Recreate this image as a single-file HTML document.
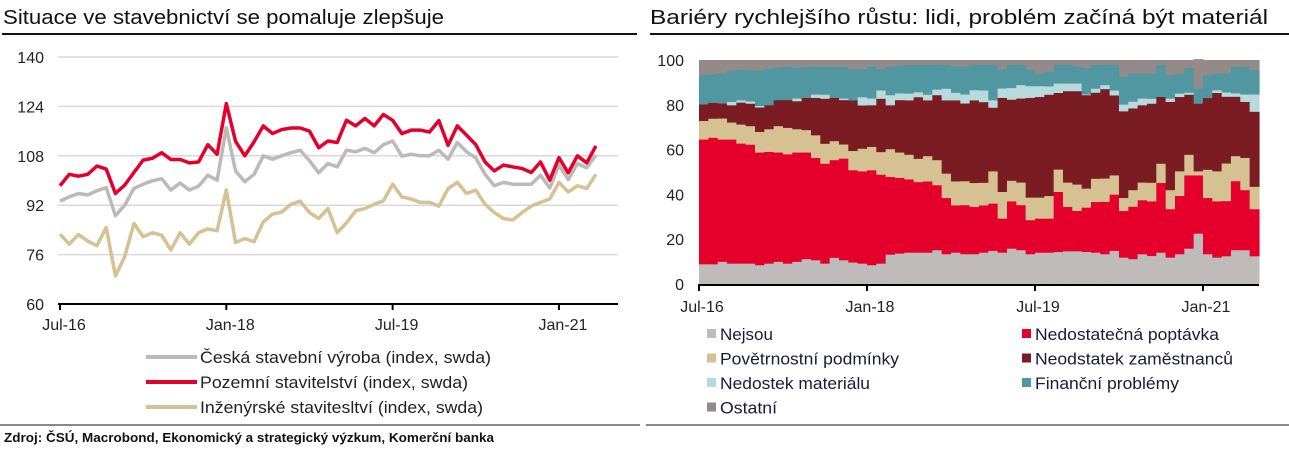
<!DOCTYPE html>
<html><head><meta charset="utf-8"><style>
body{margin:0;width:1289px;height:456px;background:#fff;overflow:hidden;font-family:"Liberation Sans",sans-serif;}
svg text{font-family:"Liberation Sans",sans-serif;}
</style></head><body>
<svg id="s" width="1289" height="456" xmlns="http://www.w3.org/2000/svg">
<text x="3" y="24" font-size="20" fill="#111" textLength="441" lengthAdjust="spacingAndGlyphs">Situace ve stavebnictví se pomaluje zlepšuje</text>
<line x1="2" y1="34" x2="637" y2="34" stroke="#111" stroke-width="2"/>
<text x="650" y="24" font-size="20" fill="#111" textLength="618" lengthAdjust="spacingAndGlyphs">Bariéry rychlejšího růstu: lidi, problém začíná být materiál</text>
<line x1="650" y1="34" x2="1289" y2="34" stroke="#111" stroke-width="2"/>
<line x1="0" y1="425" x2="640" y2="425" stroke="#888" stroke-width="2"/>
<line x1="646" y1="425" x2="1289" y2="425" stroke="#888" stroke-width="2"/>
<text x="4" y="442" font-size="13" font-weight="bold" fill="#111" textLength="490" lengthAdjust="spacingAndGlyphs">Zdroj: ČSÚ, Macrobond, Ekonomický a strategický výzkum, Komerční banka</text>
<g id="left"></g><g id="right"></g>
</svg>
<script>
// ---- Left chart data ----
const lineXLabels = ["Jul-16","Jan-18","Jul-19","Jan-21"];
const lineXLabelIdx = [0,18,36,54];
const yTicks = [60,76,92,108,124,140];
const ceskaVyroba = [93.3,94.7,95.8,95.3,96.7,97.7,88.6,92,97.4,98.8,99.9,100.6,96.9,99.2,96.9,98.2,101.7,100.1,117.1,103.1,99.6,102,108,106.9,108,109,109.8,106.4,102.5,105.5,104.4,109.8,109.3,110.4,109,111.6,112.8,107.9,108.5,108,108,109.8,106.9,112.3,109.3,107.3,102,98.3,99.4,98.8,98.8,98.8,101.7,97.6,105,100.3,105.5,104.1,108.2];
const pozemni = [98.3,102,101.4,102,104.7,103.7,95.8,98.5,102.6,106.6,107.2,109,106.8,106.8,105.7,106,111.6,108.5,124.9,112.7,108,112.5,117.7,115.2,116.5,117,117,116,110.6,112.8,112.3,119.5,117.7,120.1,117.7,121.4,119.5,115.2,116.3,116.3,115.7,119.4,111.4,117.7,114.7,111.6,106,103.1,105,104.4,103.9,102.6,106,100.1,107.4,102.5,108,105.7,111.2];
const inzenyrske = [82.6,79.4,82.5,80.4,78.9,84.8,69.1,75.3,86.1,81.8,83.1,82.3,77.5,83.1,79.4,83.1,84.3,83.7,96.9,79.9,81.2,80.2,86.6,89.1,89.8,92.3,93.3,89.6,87.7,90.9,83.1,86.3,90.2,90.9,92.3,93.4,98.8,94.7,94,92.9,92.9,91.7,97.4,99.4,95.8,96.9,92.3,89.6,87.7,87.2,89.6,91.7,92.9,94,99.4,96.3,98.3,97.4,102];
const lineNames = ["Česká stavební výroba (index, swda)","Pozemní stavitelství (index, swda)","Inženýrské stavitesltví (index, swda)"];
const lineNameWidths = [291,268,283];

// ---- Right chart data ----
const barXLabels = ["Jul-16","Jan-18","Jul-19","Jan-21"];
const barXLabelIdx = [0,18,36,54];
const barYTicks = [0,20,40,60,80,100];
const nejsou = [8.9,8.9,10.0,9.2,9.2,9.2,8.5,9.2,10.0,9.2,10.0,11.2,10.7,9.2,11.8,10.7,9.7,9.2,8.5,9.2,13.2,13.7,14.1,14.1,14.1,15.2,13.4,14.1,13.4,13.4,14.1,14.9,14.1,15.9,15.2,13.4,14.1,14.1,14.4,14.7,14.7,14.4,14.1,13.4,14.9,11.9,11.2,13.4,12.6,14.1,11.9,13.4,15.9,22.6,13.4,11.9,12.5,15.2,15.2,12.5];
const poptavka = [55.7,56.5,54.6,55.4,53.6,53.1,50.3,49.9,48.8,48.8,48.8,47.6,45.7,44.6,43.6,45.4,41.2,41.2,42.4,39.7,34.7,33.8,32.7,31.5,31.8,29.0,25.1,21.1,21.9,21.1,21.1,21.1,15.2,21.1,20.1,15.2,15.2,15.2,26.8,19.8,18.0,19.8,22.6,23.4,25.1,20.8,23.4,24.1,24.4,31.1,21.6,26.0,32.7,26.0,25.1,25.1,24.6,30.8,26.8,21.0];
const pocasi = [8.3,8.5,9.4,7.6,8.5,8.3,9.2,10.1,11.8,11.8,10.4,10.0,10.1,8.9,8.5,6.3,8.6,10.1,10.4,10.1,12.4,11.3,11.0,10.4,11.3,11.2,10.9,10.7,10.7,10.7,10.1,14.4,11.9,9.2,10.1,10.1,9.4,10.1,10.0,10.9,11.8,8.5,10.4,10.4,8.6,5.8,7.4,7.9,8.3,8.6,8.5,11.0,9.2,1.8,12.6,13.4,16.8,11.2,14.4,10.0];
const zamestnanci = [7.4,7.1,6.7,7.7,9.8,10.0,10.9,10.7,11.6,12.4,12.5,14.4,16.7,20.1,19.3,19.8,22.6,19.3,18.6,23.8,19.6,23.4,24.3,27.5,24.9,29.0,32.7,36.2,34.7,36.9,36.0,28.4,42.0,36.2,37.5,44.5,44.9,45.2,34.2,40.8,41.7,41.7,38.4,39.9,35.7,38.7,36.5,34.5,35.3,29.8,39.4,33.2,26.8,30.2,32.0,35.0,29.8,26.5,25.0,33.5];
const material = [0,0,0,1.5,1.0,1.0,0.7,0,0,0,1.2,0,1.5,1.8,0,0.7,0,3.7,3.0,3.7,4.5,3.0,3.0,2.2,2.5,2.5,5.2,3.4,4.0,4.5,5.2,3.3,4.2,5.2,6.0,5.2,4.8,3.7,4.2,3.4,3.4,0.3,1.8,1.8,2.2,3.0,3.0,3.0,2.2,0,1.5,1.5,0.9,0,0,1.2,1.9,1.5,3.3,7.7];
const financni = [13.4,12.6,13.4,14.1,13.7,14.1,15.9,16.4,14.6,14.9,13.8,13.8,12.4,12.4,13.8,14.1,13.8,12.4,14.4,9.4,12.6,12.4,12.9,12.2,13.4,11.2,10.7,11.8,12.6,11.5,11.5,15.9,8.5,10.4,9.2,7.4,5.7,6.4,8.5,8.5,7.7,11.9,10.7,9.2,11.5,12.4,12.6,11.2,11.2,14.4,10.4,8.9,11.0,6.7,10.1,7.4,8.5,11.9,12.4,10.9];
const ostatni = [6.3,6.4,5.9,4.5,4.2,4.3,4.5,3.7,3.2,2.9,3.3,3.0,2.9,3.0,3.0,3.0,4.1,4.1,2.7,4.1,3.0,2.4,2.0,2.1,2.0,1.9,2.0,2.7,2.7,1.9,2.0,2.0,4.1,2.0,1.9,4.2,5.9,5.3,1.9,1.9,2.7,3.4,2.0,1.9,2.0,7.4,5.9,5.9,6.0,2.0,6.7,6.0,3.5,13.1,6.8,6.0,5.9,2.9,2.9,4.4];
const barNames = ["Nejsou","Nedostatečná poptávka","Povětrnostní podmínky","Neodstatek zaměstnanců","Nedostek materiálu","Finanční problémy","Ostatní"];
const barNameWidths = [53,184,179,198,150,144,57];

const NS="http://www.w3.org/2000/svg";
function mk(tag,attrs,parent,txt){const e=document.createElementNS(NS,tag);for(const k in attrs)e.setAttribute(k,attrs[k]);if(txt!==undefined)e.textContent=txt;parent.appendChild(e);return e;}

// ---- Left chart ----
const L=document.getElementById('left');
const lx0=60, lstep=9.24, ly=v=>304-(v-60)*(247/80);
const lxs=i=>lx0+i*lstep;
yTicks.forEach(t=>{
  if(t>60){const g=mk('line',{x1:58,x2:618,y1:ly(t),y2:ly(t),stroke:'#d9d9d9','stroke-width':1.5},L);
  
  }
  const tx=mk('text',{x:44,y:ly(t)+6,'font-size':16,'text-anchor':'end',fill:'#222'},L,String(t));
  
  
});
const la=mk('line',{x1:58,x2:618,y1:304,y2:304,stroke:'#000','stroke-width':2},L);


lineXLabels.forEach((lab,k)=>{
  const x=lxs(lineXLabelIdx[k]);
  const tk=mk('line',{x1:x,x2:x,y1:304,y2:310,stroke:'#000','stroke-width':2},L);
  
  
  const tx=mk('text',{x:x+4,y:330,'font-size':16,'text-anchor':'middle',fill:'#222'},L,lab);
  
  
});
const series=[[inzenyrske,'#d5c192','inzenyrske-line'],[ceskaVyroba,'#bdb9b9','ceska-vyroba-line'],[pozemni,'#e4002b','pozemni-line']];
series.forEach(([d,c,n])=>{
  const p=mk('polyline',{points:d.map((v,i)=>lxs(i)+','+ly(v)).join(' '),fill:'none',stroke:c,'stroke-width':3.5,'stroke-linejoin':'round'},L);
  
  
});
const legCols=['#bdb9b9','#e4002b','#d5c192'];
lineNames.forEach((nm,k)=>{
  const y=362+k*25;
  const ln=mk('line',{x1:146,x2:197,y1:y-5,y2:y-5,stroke:legCols[k],'stroke-width':4},L);
  
  
  const tx=mk('text',{x:200,y:y+1,'font-size':17,fill:'#222',textLength:lineNameWidths[k],lengthAdjust:'spacingAndGlyphs'},L,nm);
  
  
});

// ---- Right chart ----
const R=document.getElementById('right');
const rx0=699, rw=9.333, ry=v=>284-v*2.24;
const stacks=[nejsou,poptavka,pocasi,zamestnanci,material,financni,ostatni];
const cols=['#bfbbbb','#e4002b','#d5c192','#7b1c23','#b7dadd','#5097a1','#948a8a'];
const keys=['nejsou','poptavka','pocasi','zamestnanci','material','financni','ostatni'];
for(let i=0;i<nejsou.length;i++){
  let base=0;
  stacks.forEach((s,k)=>{
    const v=s[i]; if(v<=0){return;}
    const r=mk('rect',{x:rx0+i*rw,y:ry(base+v),width:rw+0.6,height:v*2.24+0.3,fill:cols[k]},R);
    
    
    base+=v;
  });
}
barYTicks.forEach(t=>{
  const tx=mk('text',{x:684,y:ry(t)+6,'font-size':16,'text-anchor':'end',fill:'#222'},R,String(t));
  
  
});
const ra=mk('line',{x1:699,x2:1259,y1:285,y2:285,stroke:'#000','stroke-width':2},R);


barXLabels.forEach((lab,k)=>{
  const x=rx0+barXLabelIdx[k]*rw;
  const tk=mk('line',{x1:x,x2:x,y1:284,y2:291,stroke:'#000','stroke-width':2},R);
  
  
  const tx=mk('text',{x:x+3,y:312,'font-size':16,'text-anchor':'middle',fill:'#222'},R,lab);
  
  
});
barNames.forEach((nm,k)=>{
  const col=k%2, row=Math.floor(k/2);
  const x=col?1022:707, y=339+row*24.5;
  const sq=mk('rect',{x:x,y:y-10,width:9,height:9,fill:cols[k]},R);
  
  
  const tx=mk('text',{x:x+13,y:y+1,'font-size':17,fill:'#1a1a3a',textLength:barNameWidths[k],lengthAdjust:'spacingAndGlyphs'},R,nm);
  
  
});
</script>
</body></html>
